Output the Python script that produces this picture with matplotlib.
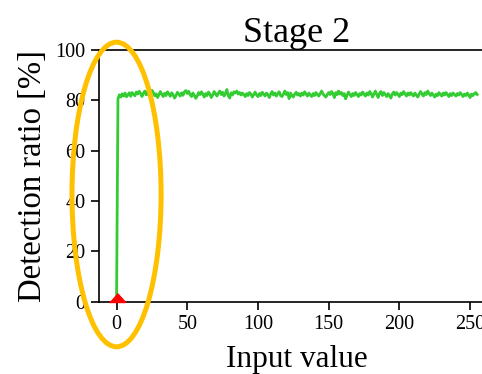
import numpy as np
import matplotlib as mpl
mpl.use('Agg')
import matplotlib.pyplot as plt
from matplotlib.patches import Ellipse
mpl.rcParams['font.family'] = 'Liberation Serif'

# detection ratio for each input value (0..255)
ratio = [
    0.0, 80.6, 82.2, 81.3, 82.6, 81.7, 82.9, 81.4, 82.1, 83.0, 81.6, 83.1, 82.4, 81.8, 83.3, 82.5,
    83.6, 82.7, 81.5, 82.9, 83.7, 82.2, 83.4, 81.9, 82.8, 84.0, 83.1, 81.8, 82.6, 81.1, 82.3, 83.5,
    82.4, 81.5, 82.8, 81.9, 83.4, 82.6, 81.6, 83.0, 82.2, 80.9, 81.8, 83.2, 82.5, 81.7, 83.0, 82.0,
    83.4, 83.9, 82.7, 83.6, 82.3, 81.5, 82.9, 81.9, 80.8, 81.7, 83.1, 82.3, 83.4, 82.5, 81.3, 82.7,
    81.9, 83.3, 82.5, 81.1, 82.1, 83.5, 82.7, 81.7, 82.9, 83.7, 82.3, 83.2, 81.7, 82.7, 84.3, 81.9,
    80.9, 83.0, 82.1, 83.4, 82.9, 83.7, 82.5, 83.1, 82.1, 82.9, 82.3, 81.5, 82.7, 81.9, 83.1, 82.5,
    81.3, 82.3, 83.3, 82.1, 81.5, 82.7, 81.9, 83.2, 82.5, 81.7, 82.9, 82.3, 81.1, 82.5, 83.5, 82.1,
    82.9, 81.7, 82.7, 83.4, 81.9, 81.5, 82.5, 83.7, 82.3, 83.1, 80.7, 82.9, 81.9, 81.3, 82.5, 83.2,
    82.1, 82.7, 81.7, 82.9, 82.1, 83.4, 82.5, 81.7, 82.9, 82.1, 81.5, 82.7, 81.9, 83.1, 82.3, 81.7,
    82.7, 83.7, 82.5, 81.9, 81.3, 82.3, 83.1, 82.3, 83.5, 82.7, 81.1, 83.1, 82.3, 83.7, 82.5, 83.1,
    81.9, 82.7, 80.6, 82.1, 83.3, 82.3, 81.5, 82.7, 81.9, 83.1, 82.3, 81.5, 82.7, 82.1, 83.3, 82.5,
    81.7, 82.9, 82.1, 83.5, 82.7, 81.3, 82.5, 83.7, 82.3, 81.1, 82.9, 83.5, 81.9, 83.1, 82.3, 81.5,
    82.7, 81.9, 80.9, 82.5, 83.3, 82.1, 83.1, 82.3, 81.5, 82.9, 82.3, 83.5, 82.5, 81.7, 82.9, 82.1,
    83.1, 82.3, 81.7, 82.9, 82.1, 81.3, 82.5, 83.5, 82.5, 81.7, 83.1, 82.3, 83.7, 82.7, 81.9, 82.9,
    82.1, 81.3, 82.5, 81.9, 83.1, 82.3, 81.7, 82.9, 82.1, 83.1, 82.3, 81.5, 82.7, 81.9, 82.9, 82.3,
    81.7, 82.7, 82.1, 83.1, 82.3, 81.5, 82.5, 81.9, 82.9, 82.1, 81.1, 82.5, 81.9, 82.7, 83.1, 82.3,
]
x = np.arange(len(ratio))

# highlighted region (data coords): centre, width, height
hl_center = (0, 42.6)
hl_w, hl_h = 63, 121

fig = plt.figure(figsize=(4.82, 3.74), dpi=100)
ax = fig.add_axes([0.2044, 0.1933, 0.823, 0.673])

ax.plot(x, ratio, color='#33CC33', lw=2)
tri = [(-0.9, 0), (0.9, 0), (0, 1)]
ax.plot([0], [ratio[0]], marker=tri, ms=13, color='red', ls='none',
        clip_on=False, zorder=5)

ax.set_xlim(-12.75, 267.75)
ax.set_ylim(0, 100)
ax.set_xticks([0, 50, 100, 150, 200, 250])
ax.set_yticks([0, 20, 40, 60, 80, 100])
ax.tick_params(labelsize=14.5, length=6, width=1.2)
for s in ax.spines.values():
    s.set_linewidth(1.2)

ax.set_title('Stage 2', fontsize=26)
ax.set_xlabel('Input value', fontsize=22.5, labelpad=8)
ax.set_ylabel('Detection ratio [%]', fontsize=23.5, labelpad=5)

ell = Ellipse(hl_center, hl_w, hl_h, fill=False, edgecolor='#FFC000',
              lw=3.6, clip_on=False, zorder=6)
ax.add_patch(ell)

plt.savefig('out.png', dpi=100)
